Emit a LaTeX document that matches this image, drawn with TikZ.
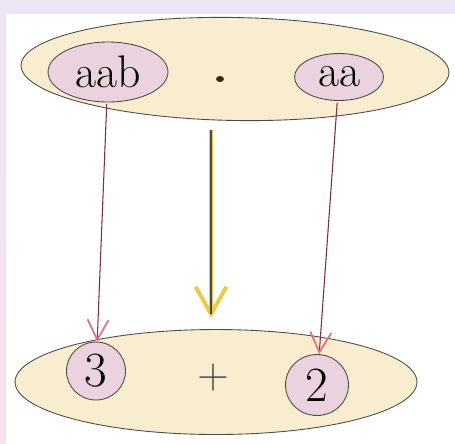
\documentclass[tikz,border=0pt]{standalone}
\usepackage{amsmath}
\usepackage{tikz}
\usetikzlibrary{arrows.meta, shapes.geometric}
\definecolor{crayonyellow}{HTML}{F8EDCF}
\definecolor{crayonpink}{HTML}{EAD2DE}
\definecolor{pencil}{HTML}{4E4A4C}
\definecolor{wine}{HTML}{7C2D4A}
\definecolor{rosetip}{HTML}{E2708A}
\definecolor{goldtip}{HTML}{EBCB45}
\definecolor{paperrim}{HTML}{EDE6F5}
\definecolor{paperpink}{HTML}{F7E3EC}

\begin{document}
\begin{tikzpicture}[
    x=0.02cm, y=-0.02cm,   % one unit = one pixel of the sketch
    set/.style={
        draw=pencil,
        fill=crayonyellow,
        ellipse,
        line width=0.5pt,
        inner sep=0pt
    },
    vertex/.style={
        draw=pencil,
        fill=crayonpink,
        ellipse,
        line width=0.5pt,
        inner sep=0pt,
        font=\fontsize{26}{30}\selectfont
    },
    map arrow/.style={
        draw=wine,
        line width=0.6pt,
        -{Straight Barb[length=0.4cm, width=0.42cm, color=rosetip, line width=1pt]},
        shorten <= 1pt,
        shorten >= 0pt
    },
    hom arrow/.style={
        draw=#1,
        line width=2.2pt,
        -{Straight Barb[length=0.55cm, width=0.62cm, color=#1, line width=2.2pt]}
    }
]
    \useasboundingbox (0,0) rectangle (455,443);
    \fill[paperrim] (0,0) rectangle (455,443);
    \shade[top color=paperrim, bottom color=paperpink] (0,14) rectangle (6,443);
    \fill[white] (6,14) rectangle (455,443);

        \node[set, minimum width=8.56cm, minimum height=2.06cm, rotate=-1] (words) at (235,69) {};
        \node[set, minimum width=8.04cm, minimum height=2.1cm] (numbers) at (216,382) {};

        \node[vertex, minimum width=2.4cm, minimum height=1.2cm] (aab) at (108,72) {aab};
        \node[fill=black!70!brown, ellipse, minimum width=0.16cm, minimum height=0.12cm, inner sep=0pt] (concat) at (220,79) {};
        \node[vertex, minimum width=1.78cm, minimum height=0.94cm] (aa) at (339,77) {aa};

        \node[vertex, minimum width=1.18cm, minimum height=1.16cm, font=\fontsize{28}{32}\selectfont] (three) at (96,371) {3};
        \node[font=\fontsize{24}{28}\selectfont, text=pencil] (plus) at (213,378) {$+$};
        \node[vertex, minimum width=1.26cm, minimum height=1.22cm, font=\fontsize{28}{32}\selectfont] (two) at (317,385) {2};

        \coordinate (hom top) at (211,130);
        \coordinate (hom bottom) at (211,318);

    \draw[map arrow] (aab) -- (three);
    \draw[map arrow] (aa) -- (two);

    \draw[hom arrow=goldtip] (hom top) -- (hom bottom);
    \draw[draw=pencil, line width=0.6pt] (hom top) -- ([yshift=2pt]hom bottom);
\end{tikzpicture}
\end{document}
